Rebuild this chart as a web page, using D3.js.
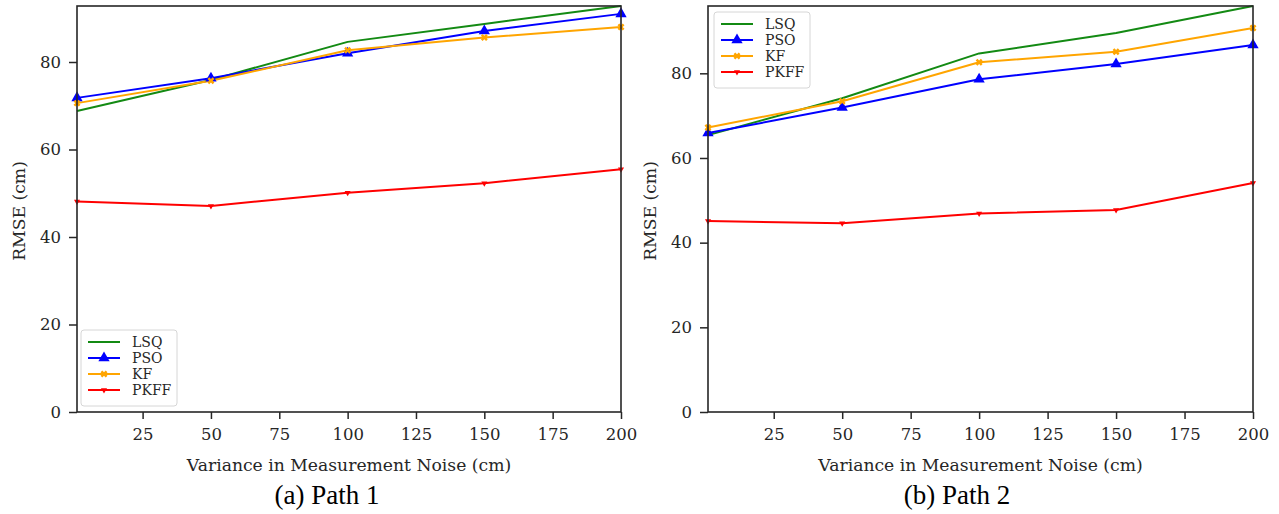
<!DOCTYPE html>
<html>
<head>
<meta charset="utf-8">
<script src="https://cdn.jsdelivr.net/npm/d3@7"></script>
<style>
  body { margin: 0; background: #fff; }
  svg { display: block; }
</style>
</head>
<body>
<svg id="chart" width="1279" height="514"></svg>
<script>
// ---- Data ----
const xValues = [1, 50, 100, 150, 200];
const seriesNames = ["LSQ", "PSO", "KF", "PKFF"];
const seriesColors = ["#138a13", "#0000ff", "#ffa500", "#ff0000"];
const xTicks = [25, 50, 75, 100, 125, 150, 175, 200];
const yTicks = [0, 20, 40, 60, 80];

const path1LSQ  = [68.8, 75.9, 84.6, 88.7, 92.8];
const path1PSO  = [71.8, 76.3, 82.0, 87.1, 91.0];
const path1KF   = [70.6, 75.7, 82.7, 85.6, 88.0];
const path1PKFF = [48.1, 47.1, 50.1, 52.3, 55.5];

const path2LSQ  = [65.4, 74.1, 84.7, 89.5, 95.9];
const path2PSO  = [65.9, 71.9, 78.6, 82.2, 86.7];
const path2KF   = [67.2, 73.4, 82.6, 85.1, 90.7];
const path2PKFF = [45.1, 44.6, 46.9, 47.7, 54.1];

const xLabel = "Variance in Measurement Noise (cm)";
const yLabel = "RMSE (cm)";
const captions = ["(a) Path 1", "(b) Path 2"];

// ---- Layout ----
const panels = [
  { left: 77, right: 621, top: 6, bottom: 412,
    series: [path1LSQ, path1PSO, path1KF, path1PKFF],
    legend: { x: 81, y: 330 }, caption: captions[0], capX: 327, ylabX: 19 },
  { left: 708, right: 1253, top: 6, bottom: 412,
    series: [path2LSQ, path2PSO, path2KF, path2PKFF],
    legend: { x: 714, y: 12 }, caption: captions[1], capX: 957, ylabX: 650 }
];

const svg = d3.select("#chart");
const tickFont = "DejaVu Serif";
const textColor = "#262626";

function markerPath(i) {
  if (i === 1) return d3.symbol().type(d3.symbolTriangle).size(55)();
  if (i === 2) return d3.symbol().type(d3.symbolCross).size(30)();
  if (i === 3) return d3.symbol().type(d3.symbolTriangle).size(16)();
  return null;
}
function markerTransform(i) {
  if (i === 2) return " rotate(45)";
  if (i === 3) return " rotate(180)";
  return "";
}

panels.forEach(p => {
  const allVals = p.series.flat();
  const x = d3.scaleLinear().domain([d3.min(xValues), d3.max(xValues)]).range([p.left, p.right]);
  const y = d3.scaleLinear().domain([0, d3.max(allVals)]).range([p.bottom, p.top]);

  const g = svg.append("g");

  // lines
  const line = d3.line().x((d, i) => x(xValues[i])).y(d => y(d));
  p.series.forEach((vals, si) => {
    g.append("path").datum(vals)
      .attr("d", line)
      .attr("fill", "none")
      .attr("stroke", seriesColors[si])
      .attr("stroke-width", 2)
      .attr("stroke-linejoin", "round");
  });
  // markers
  p.series.forEach((vals, si) => {
    if (si === 0) return;
    g.selectAll(null).data(vals).enter().append("path")
      .attr("d", markerPath(si))
      .attr("transform", (d, i) => `translate(${x(xValues[i])},${y(d)})` + markerTransform(si))
      .attr("fill", seriesColors[si]);
  });

  // axes
  const xAxis = d3.axisBottom(x).tickValues(xTicks).tickSize(7).tickPadding(9);
  const yAxis = d3.axisLeft(y).tickValues(yTicks).tickSize(8).tickPadding(8);
  const gx = g.append("g").attr("transform", `translate(0,${p.bottom})`).call(xAxis);
  const gy = g.append("g").attr("transform", `translate(${p.left},0)`).call(yAxis);
  [gx, gy].forEach(a => {
    a.select(".domain").remove();
    a.selectAll(".tick line").attr("stroke", textColor).attr("stroke-width", 1.5);
    a.selectAll(".tick text").attr("font-family", tickFont).attr("font-size", 16.5).attr("fill", textColor);
  });

  // frame
  g.append("rect")
    .attr("x", p.left).attr("y", p.top)
    .attr("width", p.right - p.left).attr("height", p.bottom - p.top)
    .attr("fill", "none").attr("stroke", textColor).attr("stroke-width", 1.6);

  // axis labels
  g.append("text")
    .attr("x", (p.left + p.right) / 2).attr("y", 471)
    .attr("text-anchor", "middle")
    .attr("font-family", tickFont).attr("font-size", 17.2).attr("fill", textColor)
    .text(xLabel);
  g.append("text")
    .attr("transform", `translate(${p.ylabX + 6},${(p.top + p.bottom) / 2 + 2}) rotate(-90)`)
    .attr("text-anchor", "middle")
    .attr("font-family", tickFont).attr("font-size", 17.2).attr("fill", textColor)
    .text(yLabel);

  // caption
  g.append("text")
    .attr("x", p.capX).attr("y", 504)
    .attr("text-anchor", "middle")
    .attr("font-family", "Liberation Serif").attr("font-size", 27).attr("fill", "#000")
    .text(p.caption);

  // legend
  const lg = g.append("g").attr("transform", `translate(${p.legend.x},${p.legend.y})`);
  lg.append("rect").attr("width", 96).attr("height", 76).attr("rx", 3)
    .attr("fill", "#fff").attr("fill-opacity", 0.85)
    .attr("stroke", "#d6d6d6").attr("stroke-width", 1);
  seriesNames.forEach((name, si) => {
    const cy = 12 + si * 16;
    lg.append("line").attr("x1", 7).attr("x2", 39).attr("y1", cy).attr("y2", cy)
      .attr("stroke", seriesColors[si]).attr("stroke-width", 2);
    if (si > 0) {
      lg.append("path").attr("d", markerPath(si))
        .attr("transform", `translate(23,${cy})` + markerTransform(si))
        .attr("fill", seriesColors[si]);
    }
    lg.append("text").attr("x", 51).attr("y", cy + 5)
      .attr("font-family", tickFont).attr("font-size", 14).attr("fill", textColor)
      .text(name);
  });
});
</script>
</body>
</html>
